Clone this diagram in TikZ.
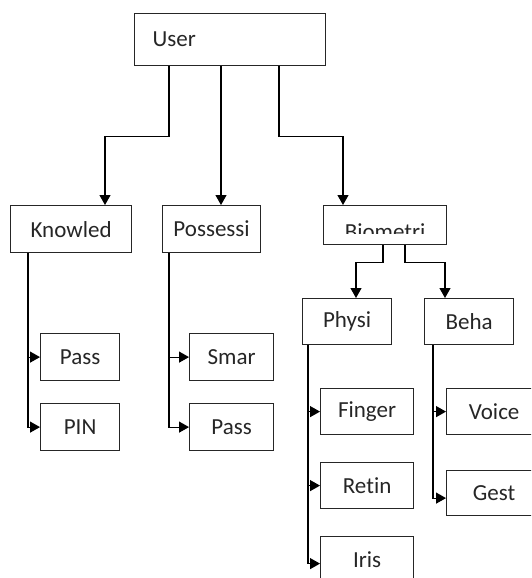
\documentclass[tikz,border=0pt]{standalone}
\usepackage{fontspec}
\setmainfont{Carlito}[Ligatures=NoCommon]
\usetikzlibrary{arrows.meta}
\begin{document}
\begin{tikzpicture}[x=1pt,y=-1pt,
    box/.style={anchor=north west,draw=black!85,line width=1.2pt,inner sep=0pt,text=black!85,font=\fontsize{23}{26}\selectfont},
    conn/.style={line width=1.2pt,-{Triangle[length=10pt,width=11pt]}}]
    \clip (0,0) rectangle (531,578);
    %% top
    \node[box,minimum width=191pt,minimum height=52pt,text width=155pt,align=left] (user) at (134,13) {User};
    %% second level
    \node[box,minimum width=121pt,minimum height=47pt] (know) at (10,205) {Knowled};
    \node[box,minimum width=98pt,minimum height=47pt] (poss) at (162,205) {Possessi};
    \node[box,minimum width=123pt,minimum height=39pt] (bio) at (323,205) {};
    \begin{scope}
        \clip (bio.north west) rectangle ([yshift=12pt]bio.south east);
        \node[anchor=base,inner sep=0pt,text=black!85,font=\fontsize{23}{26}\selectfont] (biotext) at ([yshift=6pt]bio.south) {Biometri};
    \end{scope}
    %% third level
    \node[box,minimum width=89pt,minimum height=46pt] (phys) at (302,298) {Physi};
    \node[box,minimum width=89pt,minimum height=46pt] (beha) at (424,298) {Beha};
    %% leaves
    \node[box,minimum width=79pt,minimum height=47pt] (pass1) at (40,333) {Pass};
    \node[box,minimum width=79pt,minimum height=47pt] (pin) at (40,403) {PIN};
    \node[box,minimum width=84pt,minimum height=47pt] (smar) at (189,333) {Smar};
    \node[box,minimum width=84pt,minimum height=47pt] (pass2) at (189,403) {Pass};
    \node[box,minimum width=93pt,minimum height=46pt] (finger) at (320,388) {Finger};
    \node[box,minimum width=93pt,minimum height=46pt] (retin) at (320,462) {Retin};
    \node[box,minimum width=93pt,minimum height=46pt] (iris) at (320,536) {Iris};
    \node[box,minimum width=95pt,minimum height=46pt] (voice) at (446,388) {Voice};
    \node[box,minimum width=95pt,minimum height=45pt] (gest) at (446,470) {Gest};
    %% connectors from User
    \draw[conn] ([xshift=35pt]user.south west) -- ++(0,70) -| ([xshift=95pt]know.north west);
    \draw[conn] ([xshift=87pt]user.south west) -- ([xshift=59pt]poss.north west);
    \draw[conn] ([xshift=145pt]user.south west) -- ++(0,70) -| ([xshift=20pt]bio.north west);
    %% connectors from Biometri
    \draw[conn] ([xshift=60pt]bio.south west) -- ++(0,17) -| ([xshift=54pt]phys.north west);
    \draw[conn] ([xshift=82pt]bio.south west) -- ++(0,17) -| ([xshift=21pt]beha.north west);
    %% trunks to leaves
    \draw[conn] ([xshift=18pt]know.south west) |- (pass1.west);
    \draw[conn] ([xshift=18pt]know.south west) |- (pin.west);
    \draw[conn] ([xshift=7pt]poss.south west) |- (smar.west);
    \draw[conn] ([xshift=7pt]poss.south west) |- (pass2.west);
    \draw[conn] ([xshift=6pt]phys.south west) |- (finger.west);
    \draw[conn] ([xshift=6pt]phys.south west) |- (retin.west);
    \draw[conn] ([xshift=6pt]phys.south west) |- ([yshift=-4pt]iris.west);
    \draw[conn] ([xshift=9pt]beha.south west) |- (voice.west);
    \draw[conn] ([xshift=9pt]beha.south west) |- ([yshift=-5pt]gest.west);
\end{tikzpicture}
\end{document}
